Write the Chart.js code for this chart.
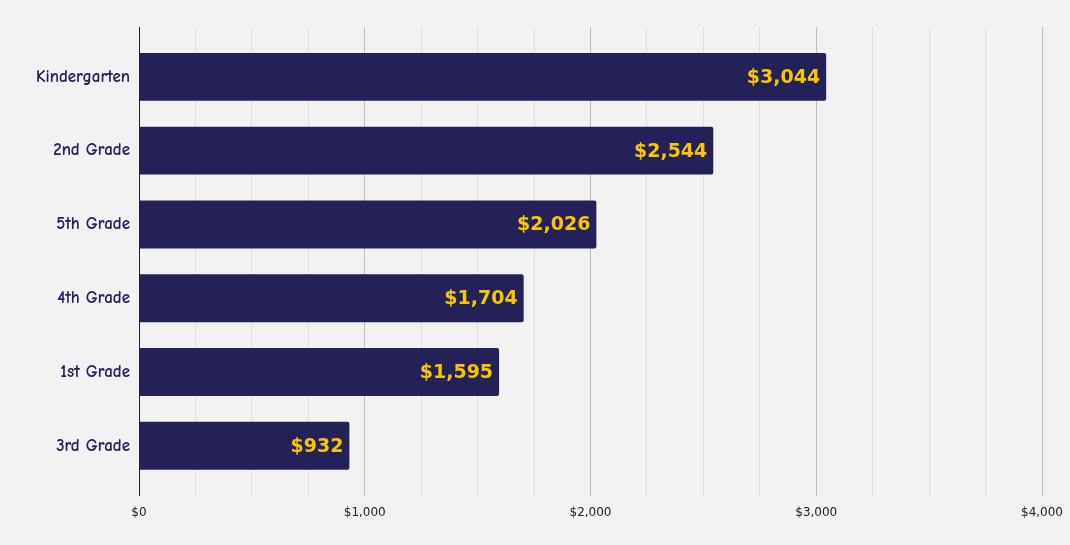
<!DOCTYPE html>
<html>
<head>
<meta charset="utf-8">
<script src="https://cdn.jsdelivr.net/npm/chart.js@4"></script>
<style>
  html, body { margin: 0; padding: 0; background: #f2f2f2; }
  #wrap { width: 1070px; height: 545px; }
</style>
</head>
<body>
<div id="wrap"><canvas id="c" width="1070" height="545"></canvas></div>
<script>
const categories = ["Kindergarten", "2nd Grade", "5th Grade", "4th Grade", "1st Grade", "3rd Grade"];
const values = [3044, 2544, 2026, 1704, 1595, 932];
const xTickValues = [0, 1000, 2000, 3000, 4000];

const BAR = 'rgb(36,33,88)';
const fmt = v => '$' + v.toLocaleString('en-US');

const valueLabels = {
  id: 'valueLabels',
  afterDatasetsDraw(chart) {
    const ctx = chart.ctx;
    const meta = chart.getDatasetMeta(0);
    ctx.save();
    ctx.font = 'bold 19px "DejaVu Sans", Verdana, sans-serif';
    ctx.fillStyle = '#f7c600';
    ctx.textAlign = 'right';
    ctx.textBaseline = 'middle';
    meta.data.forEach((bar, i) => {
      ctx.fillText(fmt(values[i]), bar.x - 6, bar.y + 1);
    });
    ctx.restore();
  }
};

new Chart(document.getElementById('c'), {
  type: 'bar',
  data: {
    labels: categories,
    datasets: [{
      data: values,
      backgroundColor: BAR,
      borderRadius: 2,
      borderSkipped: 'start',
      barPercentage: 0.65,
      categoryPercentage: 1
    }]
  },
  options: {
    indexAxis: 'y',
    responsive: false,
    animation: false,
    devicePixelRatio: 1,
    layout: { padding: { top: 27, left: 0, right: 0, bottom: 15 } },
    plugins: { legend: { display: false }, tooltip: { enabled: false } },
    scales: {
      x: {
        min: 0, max: 4000,
        ticks: {
          stepSize: 250,
          autoSkip: false,
          maxRotation: 0,
          padding: 10,
          color: '#222',
          font: { family: '"DejaVu Sans", sans-serif', size: 12 },
          callback: v => xTickValues.includes(v) ? fmt(v) : ''
        },
        grid: {
          drawTicks: true,
          tickLength: 0,
          color: c => (c.tick && c.tick.value % 1000 === 0) ? '#bdbdbd' : '#dedede',
          lineWidth: 1
        },
        border: { display: false },
        afterFit(scale) { scale.paddingRight = 28; }
      },
      y: {
        ticks: {
          color: 'rgb(36,33,88)',
          padding: 1,
          font: { family: '"Comic Sans MS", "Comic Neue", "DejaVu Sans", sans-serif', size: 17, weight: 'bold' }
        },
        grid: { display: false },
        border: { display: true, color: '#222', width: 1 },
        afterFit(scale) { scale.width = 139; },
        afterBuildTicks(scale) {
          const pad = 0.176;
          scale._startValue -= pad;
          scale._valueRange += 2 * pad;
        }
      }
    }
  },
  plugins: [valueLabels]
});
</script>
</body>
</html>
